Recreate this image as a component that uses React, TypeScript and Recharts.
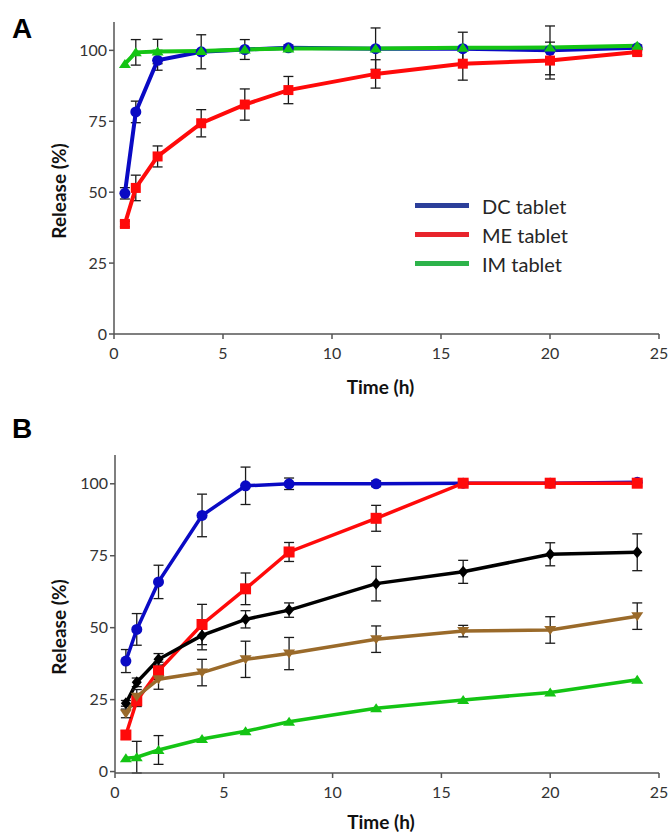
import React from 'react'
import { LineChart, Line, XAxis, YAxis, ErrorBar, Legend, Label } from 'recharts'

// sampling times (h), shared by both panels
const times = [0.5, 1, 2, 4, 6, 8, 12, 16, 20, 24]

// panel A
const dcTablet = [49.6, 78.3, 96.5, 99.5, 100.3, 100.9, 100.6, 100.6, 100.0, 100.9]
const dcTabletErr = [2.0, 3.8, 3.5, 6.0, 3.5, 1.0, 7.3, 5.8, 8.6, 1.0]
const meTablet = [38.8, 51.5, 62.6, 74.3, 80.9, 86.0, 91.7, 95.3, 96.4, 99.4]
const meTabletErr = [1.0, 4.5, 3.7, 4.8, 5.5, 4.8, 5.0, 5.8, 6.5, 1.0]
const imTablet = [95.2, 99.3, 99.6, 99.8, 100.3, 100.7, 100.7, 100.9, 101.0, 101.6]
const imTabletErr = [0, 4.5, 4.3, 0, 0, 0, 0, 0, 0, 0]

// panel B
const blueB = [38.4, 49.4, 65.9, 89.0, 99.3, 100.0, 100.0, 100.2, 100.2, 100.5]
const blueBErr = [4.0, 5.5, 5.8, 7.4, 6.5, 2.0, 1.0, 0, 0, 0]
const redB = [12.7, 24.6, 35.0, 51.1, 63.5, 76.3, 88.0, 100.2, 100.2, 100.2]
const redBErr = [1.5, 2.0, 3.0, 7.0, 5.5, 3.3, 4.5, 1.0, 1.0, 1.0]
const blackB = [23.7, 31.0, 39.0, 47.3, 52.9, 56.1, 65.3, 69.4, 75.5, 76.2]
const blackBErr = [1.0, 1.5, 2.0, 5.0, 3.0, 2.5, 6.0, 4.0, 4.0, 6.4]
const brownB = [20.2, 26.0, 32.1, 34.4, 39.0, 41.0, 46.0, 48.8, 49.2, 54.0]
const brownBErr = [1.5, 2.5, 3.5, 4.6, 6.3, 5.6, 4.6, 2.0, 4.6, 4.6]
const greenB = [4.6, 5.0, 7.5, 11.3, 14.0, 17.3, 22.0, 24.9, 27.5, 31.9]
const greenBErr = [0, 5.5, 5.0, 0, 0, 0, 0, 0, 0, 0]

const xTicks = [0, 5, 10, 15, 20, 25]
const yTicks = [0, 25, 50, 75, 100]
const legendOrder = ['DC tablet', 'ME tablet', 'IM tablet']

const dataA = times.map((t, i) => ({
  t,
  dc: dcTablet[i], dcErr: dcTabletErr[i],
  me: meTablet[i], meErr: meTabletErr[i],
  im: imTablet[i], imErr: imTabletErr[i],
}))

const dataB = times.map((t, i) => ({
  t,
  f1: blueB[i], f1Err: blueBErr[i],
  f2: redB[i], f2Err: redBErr[i],
  f3: blackB[i], f3Err: blackBErr[i],
  f4: brownB[i], f4Err: brownBErr[i],
  f5: greenB[i], f5Err: greenBErr[i],
}))

const BLUE = '#0a0ac4'
const RED = '#ff0a0a'
const GREEN = '#14c414'
const BROWN = '#9a6a2a'
const BLACK = '#000000'

const legendColors: Record<string, string> = {
  'DC tablet': '#2c3f9a',
  'ME tablet': '#e8242c',
  'IM tablet': '#2db34a',
}

const FONT = 'Lato, "Open Sans", sans-serif'

const marker = (shape: string, color: string, size: number) => (props: any) => {
  const { cx, cy, index } = props
  const key = `${shape}-${index}`
  if (cx == null || cy == null) return <g key={key} />
  const h = size / 2
  if (shape === 'circle') return <circle key={key} cx={cx} cy={cy} r={h} fill={color} />
  if (shape === 'square')
    return <rect key={key} x={cx - h} y={cy - h} width={size} height={size} fill={color} />
  if (shape === 'diamond')
    return <path key={key} d={`M${cx},${cy - h - 1}L${cx + h},${cy}L${cx},${cy + h + 1}L${cx - h},${cy}Z`} fill={color} />
  if (shape === 'up')
    return <path key={key} d={`M${cx},${cy - h}L${cx + h + 1},${cy + h - 1}L${cx - h - 1},${cy + h - 1}Z`} fill={color} />
  return <path key={key} d={`M${cx},${cy + h}L${cx + h + 1},${cy - h + 1}L${cx - h - 1},${cy - h + 1}Z`} fill={color} />
}

const YTitle = (props: any) => {
  const { viewBox } = props
  const x = viewBox.x + 58
  const y = viewBox.y + viewBox.height / 2 + 13
  return (
    <text x={x} y={y} transform={`rotate(-90, ${x}, ${y})`} textAnchor="middle" dominantBaseline="central"
      fontFamily={FONT} fontWeight={700} fontSize={19} fill="#111">
      Release (%)
    </text>
  )
}

const xTitle = (drop: number) => (props: any) => {
  const { viewBox } = props
  const x = viewBox.x + viewBox.width / 2 - 6
  const y = viewBox.y + drop
  return (
    <text x={x} y={y} textAnchor="middle" dominantBaseline="central"
      fontFamily={FONT} fontWeight={700} fontSize={19} fill="#111">
      Time (h)
    </text>
  )
}

const LegendA = ({ payload }: any) => {
  const items = [...(payload || [])].sort(
    (a: any, b: any) => legendOrder.indexOf(a.value) - legendOrder.indexOf(b.value)
  )
  return (
    <div>
      {items.map((p: any) => (
        <div key={p.value} style={{ display: 'flex', alignItems: 'center', height: 29 }}>
          <span style={{ display: 'inline-block', width: 54, height: 5, background: legendColors[p.value], marginRight: 13 }} />
          <span style={{ fontFamily: FONT, fontSize: 20, color: '#262626' }}>{p.value}</span>
        </div>
      ))}
    </div>
  )
}

const tickStyle = { fontSize: 16, fill: '#333', fontFamily: FONT }
const axisStroke = { stroke: '#555', strokeWidth: 1.5 }
const errProps = { width: 5, strokeWidth: 1.3, stroke: '#1a1a1a', direction: 'y' as const }

const panelLetter: React.CSSProperties = {
  position: 'absolute', left: 12, fontFamily: '"Liberation Sans", Arial, sans-serif',
  fontWeight: 700, fontSize: 28, lineHeight: '28px', color: '#000',
}

export default function App() {
  return (
    <div style={{ position: 'absolute', left: 0, top: 0, width: 669, height: 834, background: '#fff' }}>
      <div style={{ ...panelLetter, top: 15 }}>A</div>
      <div style={{ ...panelLetter, top: 415 }}>B</div>

      <div style={{ position: 'absolute', left: 0, top: 0 }}>
        <LineChart width={669} height={400} data={dataA} margin={{ top: 22, right: 10, left: 0, bottom: 6 }}>
          <XAxis dataKey="t" type="number" domain={[0, 25]} ticks={xTicks} interval={0} height={60}
            tick={tickStyle} tickSize={5} tickMargin={9} axisLine={axisStroke} tickLine={axisStroke}>
            <Label content={xTitle(52)} />
          </XAxis>
          <YAxis type="number" domain={[0, 110]} ticks={yTicks} interval={0} width={114}
            tick={tickStyle} tickSize={5} tickMargin={2} axisLine={axisStroke} tickLine={axisStroke}>
            <Label content={YTitle} />
          </YAxis>
          <Legend layout="vertical" align="center" verticalAlign="middle" content={LegendA}
            wrapperStyle={{ left: 415, top: 191, width: 220, height: 90 }} />
          <Line dataKey="dc" name="DC tablet" type="linear" stroke={BLUE} strokeWidth={4}
            dot={marker('circle', BLUE, 11)} activeDot={false} isAnimationActive={false}>
            <ErrorBar dataKey="dcErr" {...errProps} />
          </Line>
          <Line dataKey="me" name="ME tablet" type="linear" stroke={RED} strokeWidth={4}
            dot={marker('square', RED, 10)} activeDot={false} isAnimationActive={false}>
            <ErrorBar dataKey="meErr" {...errProps} />
          </Line>
          <Line dataKey="im" name="IM tablet" type="linear" stroke={GREEN} strokeWidth={4}
            dot={marker('up', GREEN, 10)} activeDot={false} isAnimationActive={false}>
            <ErrorBar dataKey="imErr" {...errProps} />
          </Line>
        </LineChart>
      </div>

      <div style={{ position: 'absolute', left: 0, top: 420 }}>
        <LineChart width={669} height={414} data={dataB} margin={{ top: 35, right: 10, left: 0, bottom: 6 }}>
          <XAxis dataKey="t" type="number" domain={[0, 25]} ticks={xTicks} interval={0} height={55}
            tick={tickStyle} tickSize={5} tickMargin={9} axisLine={axisStroke} tickLine={axisStroke}>
            <Label content={xTitle(48)} />
          </XAxis>
          <YAxis type="number" domain={[0, 110]} ticks={yTicks} interval={0} width={115}
            tick={tickStyle} tickSize={5} tickMargin={2} axisLine={axisStroke} tickLine={axisStroke}>
            <Label content={YTitle} />
          </YAxis>
          <Line dataKey="f1" name="Formulation 1" type="linear" stroke={BLUE} strokeWidth={3.5}
            dot={marker('circle', BLUE, 11)} activeDot={false} isAnimationActive={false}>
            <ErrorBar dataKey="f1Err" {...errProps} />
          </Line>
          <Line dataKey="f2" name="Formulation 2" type="linear" stroke={RED} strokeWidth={3.5}
            dot={marker('square', RED, 11)} activeDot={false} isAnimationActive={false}>
            <ErrorBar dataKey="f2Err" {...errProps} />
          </Line>
          <Line dataKey="f3" name="Formulation 3" type="linear" stroke={BLACK} strokeWidth={3.5}
            dot={marker('diamond', BLACK, 10)} activeDot={false} isAnimationActive={false}>
            <ErrorBar dataKey="f3Err" {...errProps} />
          </Line>
          <Line dataKey="f4" name="Formulation 4" type="linear" stroke={BROWN} strokeWidth={3.5}
            dot={marker('down', BROWN, 10)} activeDot={false} isAnimationActive={false}>
            <ErrorBar dataKey="f4Err" {...errProps} />
          </Line>
          <Line dataKey="f5" name="Formulation 5" type="linear" stroke={GREEN} strokeWidth={3.5}
            dot={marker('up', GREEN, 10)} activeDot={false} isAnimationActive={false}>
            <ErrorBar dataKey="f5Err" {...errProps} />
          </Line>
        </LineChart>
      </div>
    </div>
  )
}
